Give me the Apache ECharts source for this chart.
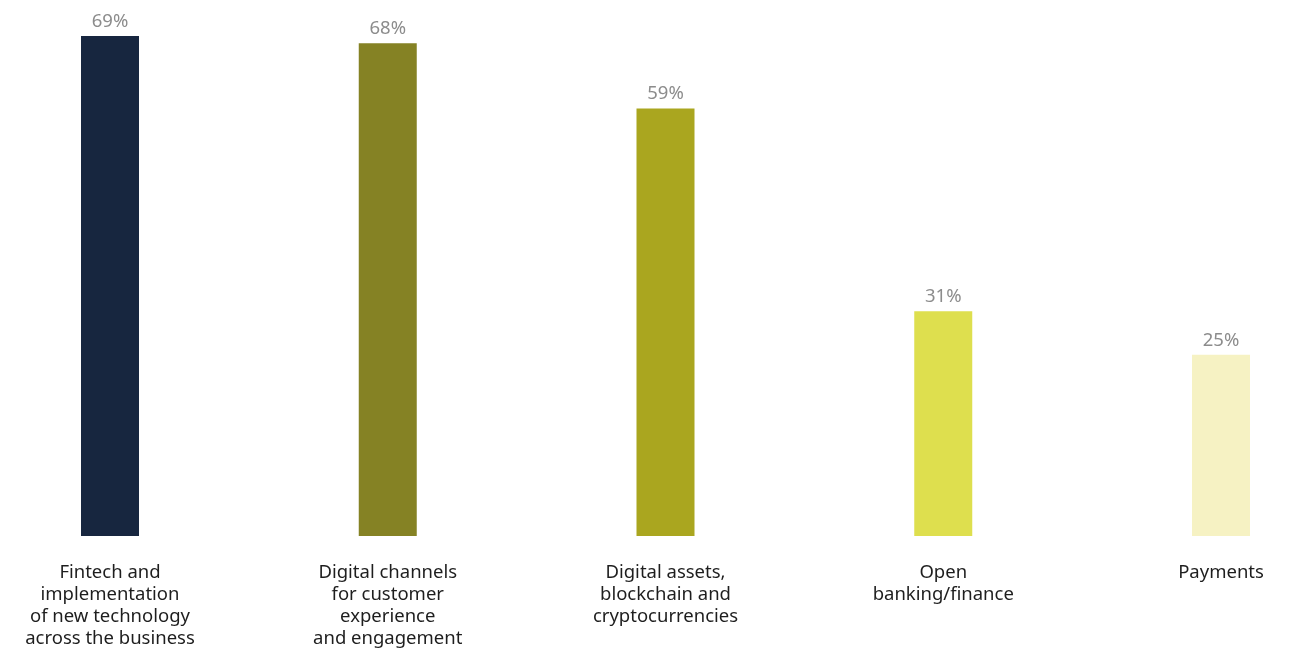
<!DOCTYPE html>
<html><head><meta charset="utf-8">
<script src="https://cdn.jsdelivr.net/npm/echarts@6/dist/echarts.min.js"></script>
<style>html,body{margin:0;padding:0;background:#fff}#c{width:1296px;height:650px}</style>
</head><body><div id="c"></div>
<script>
const categories = [
  "Fintech and\nimplementation\nof new technology\nacross the business",
  "Digital channels\nfor customer\nexperience\nand engagement",
  "Digital assets,\nblockchain and\ncryptocurrencies",
  "Open\nbanking/finance",
  "Payments"
];
const values = [69, 68, 59, 31, 25];
const colors = ["#17263f", "#858224", "#aaa61f", "#dedf4e", "#f6f2c3"];

const chart = echarts.init(document.getElementById('c'));
chart.setOption({
  animation: false,
  grid: { left: 110, right: 75, top: 36, bottom: 114, containLabel: false },
  xAxis: {
    type: 'category', data: categories, boundaryGap: false,
    axisLine: { show: false }, axisTick: { show: false },
    axisLabel: { interval: 0, margin: 26, color: '#1e1e1e', fontSize: 18.5, lineHeight: 22,
      fontFamily: 'Noto Sans', align: 'center', verticalAlign: 'top' }
  },
  yAxis: { type: 'value', min: 0, max: 69, show: false, splitLine: { show: false } },
  series: [{
    type: 'bar', barWidth: 58,
    data: values.map((v, i) => ({ value: v, itemStyle: { color: colors[i] } })),
    label: { show: true, position: 'top', distance: 5, formatter: '{c}%', color: '#8c8c8c',
      fontSize: 18.5, fontFamily: 'Noto Sans' }
  }]
});
</script></body></html>
